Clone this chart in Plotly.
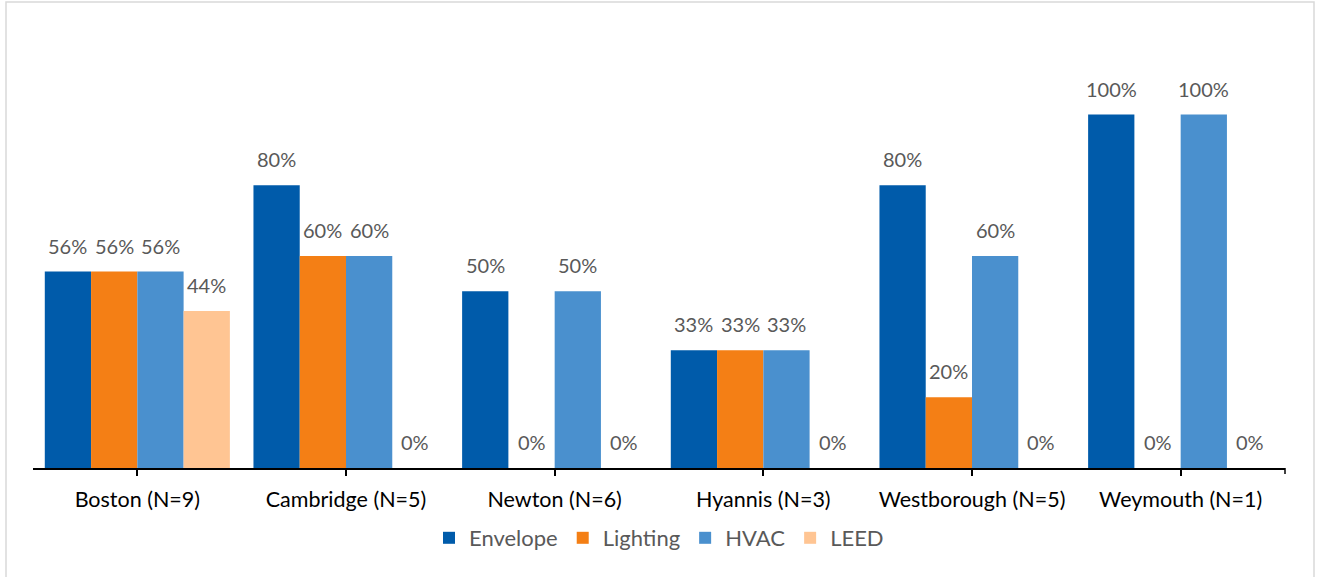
import plotly.graph_objects as go

# Share of buildings by measure, per city (sample size in the label)
cities = ["Boston (N=9)", "Cambridge (N=5)", "Newton (N=6)",
          "Hyannis (N=3)", "Westborough (N=5)", "Weymouth (N=1)"]
envelope = [0.556, 0.80, 0.50, 0.333, 0.80, 1.00]
lighting = [0.556, 0.60, 0.00, 0.333, 0.20, 0.00]
hvac = [0.556, 0.60, 0.50, 0.333, 0.60, 1.00]
leed = [0.444, 0.00, 0.00, 0.00, 0.00, 0.00]

series = [
    ("Envelope", envelope, "#005BAA"),
    ("Lighting", lighting, "#F47F15"),
    ("HVAC", hvac, "#4A90CE"),
    ("LEED", leed, "#FFC593"),
]

FONT = "Lato"
W, H = 1317, 577
M_L, M_R, M_T, M_B = 33, 32, 40, 109
BARGAP = 0.113
plot_w = W - M_L - M_R
plot_h = H - M_T - M_B
px_per_unit = 353.4            # pixels for 100 %
y_top = plot_h / px_per_unit

fig = go.Figure()
for name, vals, color in series:
    fig.add_trace(go.Bar(
        x=cities, y=vals, name=name,
        marker=dict(color=color, line=dict(width=0)),
    ))

# value labels above each bar
cat_px = plot_w / len(cities)
bar_px = cat_px * (1 - BARGAP) / len(series)
annotations = []
for j, (name, vals, color) in enumerate(series):
    for c, v in zip(cities, vals):
        annotations.append(dict(
            x=c, y=v, xref="x", yref="y",
            text=f"{v:.0%}", showarrow=False,
            xanchor="center", yanchor="bottom",
            xshift=(j - (len(series) - 1) / 2) * bar_px, yshift=12,
            font=dict(family=FONT, size=20, color="#595959"),
        ))

shapes = [
    # outer chart frame
    dict(type="rect", xref="paper", yref="paper",
         x0=(6 - M_L) / plot_w, x1=(1314 - M_L) / plot_w,
         y0=-(H + 5 - (H - M_B)) / plot_h, y1=((H - M_B) - 2) / plot_h,
         line=dict(color="#D9D9D9", width=1.5), fillcolor="rgba(0,0,0,0)",
         layer="below"),
    # closing tick at the right end of the category axis
    dict(type="line", xref="paper", yref="paper",
         x0=1, x1=1, y0=0, y1=-6 / plot_h,
         line=dict(color="#000000", width=1.5)),
]

fig.update_layout(
    width=W, height=H,
    margin=dict(l=M_L, r=M_R, t=M_T, b=M_B, autoexpand=False),
    paper_bgcolor="white", plot_bgcolor="white",
    barmode="group", bargap=BARGAP, bargroupgap=0,
    font=dict(family=FONT, size=20, color="#595959"),
    xaxis=dict(
        showline=True, linecolor="#000000", linewidth=1.5,
        ticks="outside", ticklen=6, tickwidth=1.5, tickcolor="#000000",
        tickfont=dict(family=FONT, size=21.5, color="#000000"),
        ticklabelstandoff=5,
        showgrid=False, zeroline=False, fixedrange=True,
    ),
    yaxis=dict(
        range=[0, y_top], visible=False, showgrid=False, zeroline=False,
        fixedrange=True,
    ),
    legend=dict(
        orientation="h", x=0.5, xanchor="center",
        y=-(538 - (H - M_B)) / plot_h, yanchor="middle",
        font=dict(family=FONT, size=22, color="#595959"),
        itemwidth=30, tracegroupgap=0, bgcolor="rgba(0,0,0,0)",
    ),
    annotations=annotations,
    shapes=shapes,
    showlegend=True,
)

fig.write_html("out.html")
